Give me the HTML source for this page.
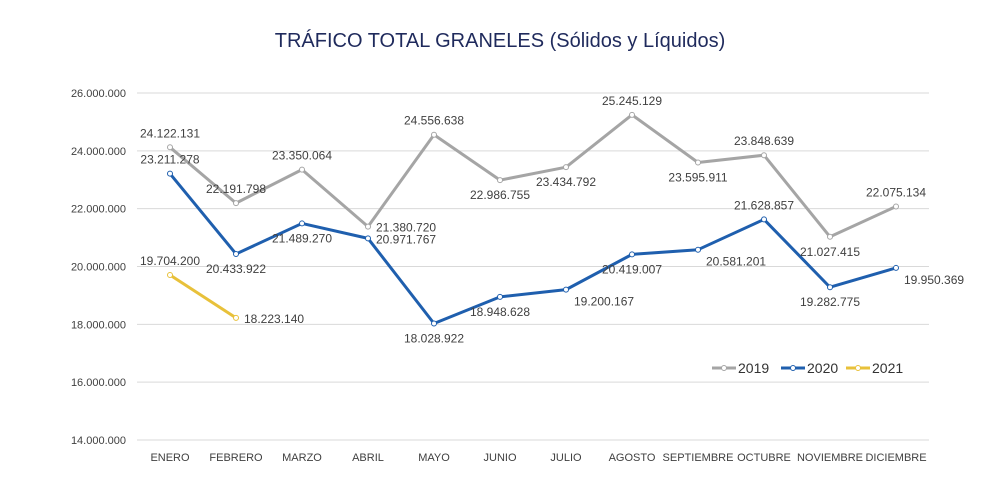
<!DOCTYPE html>
<html><head><meta charset="utf-8"><style>
html,body{margin:0;padding:0;background:#fff;}
svg{display:block;font-family:"Liberation Sans",sans-serif;}
</style></head><body>
<svg id="chart" width="1000" height="500">
<text x="500" y="47" text-anchor="middle" font-size="20" fill="#1f2a5c">TRÁFICO TOTAL GRANELES (Sólidos y Líquidos)</text>
<g id="grid"></g><g id="series"></g><g id="labels"></g>
<g font-size="14" fill="#333">
<g><line x1="712" y1="368" x2="736" y2="368" stroke="#a5a5a5" stroke-width="3"/><circle cx="724" cy="368" r="2.5" fill="#fff" stroke="#a5a5a5"/><text x="738" y="373">2019</text></g>
<g><line x1="781" y1="368" x2="805" y2="368" stroke="#1f5fae" stroke-width="3"/><circle cx="793" cy="368" r="2.5" fill="#fff" stroke="#1f5fae"/><text x="807" y="373">2020</text></g>
<g><line x1="846" y1="368" x2="870" y2="368" stroke="#e8c13a" stroke-width="3"/><circle cx="858" cy="368" r="2.5" fill="#fff" stroke="#e8c13a"/><text x="872" y="373">2021</text></g>
</g>
</svg>
<script>
const categories=["ENERO","FEBRERO","MARZO","ABRIL","MAYO","JUNIO","JULIO","AGOSTO","SEPTIEMBRE","OCTUBRE","NOVIEMBRE","DICIEMBRE"];
const s2019=[24122131,22191798,23350064,21380720,24556638,22986755,23434792,25245129,23595911,23848639,21027415,22075134];
const s2020=[23211278,20433922,21489270,20971767,18028922,18948628,19200167,20419007,20581201,21628857,19282775,19950369];
const s2021=[19704200,18223140];
const pos2019=["a","a","a","r","a","b","b","a","b","a","b","a"];
const pos2020=["a","b","b","r","b","b","br","b","br","a","b","br"];
const pos2021=["a","r"];
const yTicks=[14000000,16000000,18000000,20000000,22000000,24000000,26000000];
const NS="http://www.w3.org/2000/svg";
const x0=137,x1=929,yTop=93,yBot=440,yMin=14000000,yMax=26000000;
const band=(x1-x0)/categories.length;
function xs(i){return x0+band*(i+0.5);}
function ys(v){return yBot-(v-yMin)/(yMax-yMin)*(yBot-yTop);}
function fmt(v){return String(v).replace(/\B(?=(\d{3})+(?!\d))/g,".");}
function mk(t,a,p){const e=document.createElementNS(NS,t);for(const k in a)e.setAttribute(k,a[k]);p.appendChild(e);return e;}
const grid=document.getElementById("grid");
yTicks.forEach(v=>{
 const l=mk("line",{x1:x0,x2:x1,y1:ys(v),y2:ys(v),stroke:"#d9d9d9","stroke-width":1},grid);
 
 
 const t=mk("text",{x:126,y:ys(v)+4,"text-anchor":"end","font-size":11,fill:"#404040"},grid);
 t.textContent=fmt(v);
 
 
});
categories.forEach((c,i)=>{
 const t=mk("text",{x:xs(i),y:461,"text-anchor":"middle","font-size":11,fill:"#404040"},grid);
 t.textContent=c;
 
 
});
const ser=document.getElementById("series"),lab=document.getElementById("labels");
function draw(data,pos,color,name){
 const pts=data.map((v,i)=>xs(i)+","+ys(v)).join(" ");
 const pl=mk("polyline",{points:pts,fill:"none",stroke:color,"stroke-width":3,"stroke-linejoin":"round"},ser);
 
 
 data.forEach((v,i)=>{
  const c=mk("circle",{cx:xs(i),cy:ys(v),r:2.5,fill:"#fff",stroke:color,"stroke-width":1},ser);
  
  
  let x=xs(i),y=ys(v),anchor="middle";
  if(pos[i]==="a")y-=10;
  else if(pos[i]==="b")y+=19;
  else if(pos[i]==="br"){x+=8;y+=16;anchor="start";}
  else{x+=8;y+=5;anchor="start";}
  const t=mk("text",{x:x,y:y,"text-anchor":anchor,"font-size":12,fill:"#404040"},lab);
  t.textContent=fmt(v);
  
  
 });
}
draw(s2019,pos2019,"#a5a5a5","2019");
draw(s2020,pos2020,"#1f5fae","2020");
draw(s2021,pos2021,"#e8c13a","2021");
</script>
</body></html>
